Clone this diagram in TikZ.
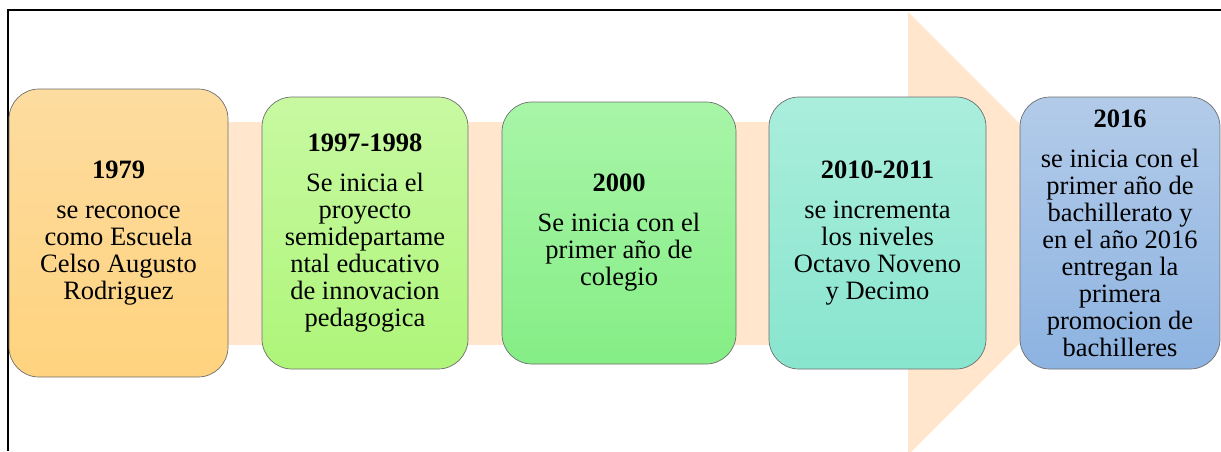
\documentclass[tikz,border=0pt]{standalone}
\usepackage{fontspec}
\setmainfont{Liberation Serif}
\definecolor{bandc}{HTML}{FFE6CC}
\definecolor{edgec}{HTML}{6E6E6E}
\definecolor{oT}{HTML}{FDDCA0}
\definecolor{oB}{HTML}{FFD37E}
\definecolor{g1T}{HTML}{C8F9A2}
\definecolor{g1B}{HTML}{AEF579}
\definecolor{g2T}{HTML}{A8F5A8}
\definecolor{g2B}{HTML}{85EE85}
\definecolor{tT}{HTML}{AAEEDC}
\definecolor{tB}{HTML}{88E5CE}
\definecolor{bT}{HTML}{B3CBE9}
\definecolor{bB}{HTML}{8DB3E1}
\begin{document}
\begin{tikzpicture}[x=1pt,y=-1pt,
  eventbox/.style={draw=edgec, line width=0.7pt, rounded corners=30pt,
    align=center, inner sep=0pt, text=black,
    font=\fontsize{26.5}{27}\selectfont},
  frameline/.style={draw=black, line width=1.6pt}]
\useasboundingbox (0,0) rectangle (1221,451);
\clip (0,0) rectangle (1221,451);
% background arrow
\fill[bandc] (8,122) rectangle (908,345);
\fill[bandc] (908,12) -- (1129.5,233.5) -- (908,455) -- cycle;
% frame
\coordinate (fbl) at (8,451);
\coordinate (ftl) at (8,10);
\coordinate (ftr) at (1221,10);
\draw[frameline] (fbl) -- (ftl) -- (ftr);
% boxes
\node[eventbox, minimum width=219pt, minimum height=288pt, top color=oT, bottom color=oB]
  (b1) at (118.5,233) {{\bfseries 1979}\\[13pt]se reconoce\\como Escuela\\Celso Augusto\\Rodriguez};
\node[eventbox, minimum width=206pt, minimum height=272pt, top color=g1T, bottom color=g1B]
  (b2) at (365,233) {{\bfseries 1997-1998}\\[13pt]Se inicia el\\proyecto\\semidepartame\\ntal educativo\\de innovacion\\pedagogica};
\node[eventbox, minimum width=234pt, minimum height=262pt, top color=g2T, bottom color=g2B]
  (b3) at (619,233) {{\bfseries 2000}\\[13pt]Se inicia con el\\primer año de\\colegio};
\node[eventbox, minimum width=217pt, minimum height=272pt, top color=tT, bottom color=tB]
  (b4) at (877.5,233) {{\bfseries 2010-2011}\\[13pt]se incrementa\\los niveles\\Octavo Noveno\\y Decimo};
\node[eventbox, minimum width=200pt, minimum height=272pt, top color=bT, bottom color=bB]
  (b5) at (1120,233) {{\bfseries 2016}\\[13pt]se inicia con el\\primer año de\\bachillerato y\\en el año 2016\\entregan la\\primera\\promocion de\\bachilleres};
\end{tikzpicture}
\end{document}
